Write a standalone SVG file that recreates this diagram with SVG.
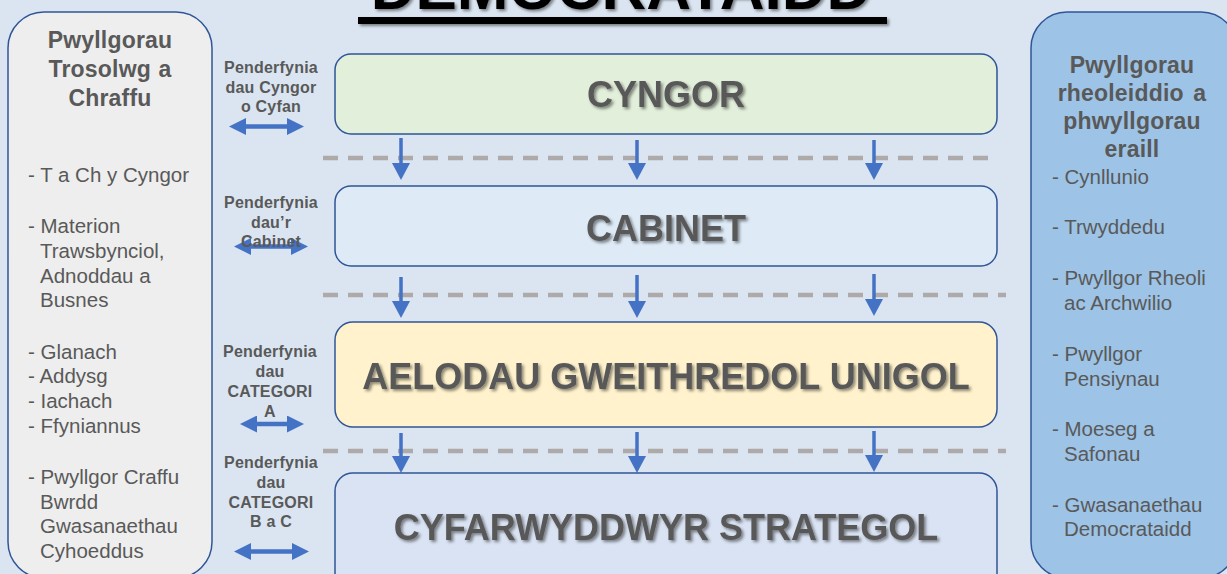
<svg xmlns="http://www.w3.org/2000/svg" width="1227" height="574" viewBox="0 0 1227 574">
<style>
.panelL{fill:#eeeeee;stroke:#2f5597;stroke-width:1.5}
.panelR{fill:#9dc3e6;stroke:#2f5597;stroke-width:1.5}
.box{stroke:#2f5597;stroke-width:1.5}
.ptitle{font-family:"Liberation Sans",Arial,sans-serif;font-weight:bold;font-size:23px;fill:#595959;text-anchor:middle;letter-spacing:0.2px}
.item{font-family:"Liberation Sans",Arial,sans-serif;font-size:20.5px;fill:#595959}
.lbl{font-family:"Liberation Sans",Arial,sans-serif;font-weight:bold;font-size:16px;fill:#595959;text-anchor:middle;letter-spacing:0.2px}
.big{font-family:"Liberation Sans",Arial,sans-serif;font-weight:bold;font-size:36px;fill:#595959;text-anchor:middle}
.dash{stroke:#aeaaaa;stroke-width:4.5;stroke-dasharray:15 10;fill:none}
.varr{stroke:#4472c4;stroke-width:3.5;fill:none}
.harr{stroke:#4472c4;stroke-width:4.5;fill:none}
</style>
<defs>
<filter id="sh" x="-10%" y="-30%" width="120%" height="160%">
<feDropShadow dx="2" dy="2" stdDeviation="1.5" flood-color="#000" flood-opacity="0.45"/>
</filter>
<marker id="ahv" markerUnits="userSpaceOnUse" viewBox="0 0 17 18" markerWidth="17" markerHeight="18" refX="9" refY="9" orient="auto">
<path d="M0,0 L17,9 L0,18 z" fill="#4472c4"/>
</marker>
<marker id="ahh" markerUnits="userSpaceOnUse" viewBox="0 0 17 17" markerWidth="17" markerHeight="17" refX="9" refY="8.5" orient="auto-start-reverse">
<path d="M0,0 L17,8.5 L0,17 z" fill="#4472c4"/>
</marker>
</defs>
<rect x="0" y="0" width="1227" height="574" fill="#dae5f1"/>

<g id="title" filter="url(#sh)">
<text x="621" y="9" font-family="'Liberation Sans',Arial,sans-serif" font-weight="bold" font-size="62" fill="#000" text-anchor="middle">DEMOCRATAIDD</text>
<rect x="358" y="17" width="529" height="7" fill="#000"/>
</g>

<g id="panel-left">
<rect class="panelL" x="8" y="12" width="204" height="566" rx="36"/>
<text class="ptitle" x="110" y="48">Pwyllgorau</text>
<text class="ptitle" x="110" y="77" word-spacing="1">Trosolwg a</text>
<text class="ptitle" x="110" y="106">Chraffu</text>
<text class="item" x="28" y="182">- T a Ch y Cyngor</text>
<text class="item" x="28" y="233">- Materion</text>
<text class="item" x="40" y="258">Trawsbynciol,</text>
<text class="item" x="40" y="283">Adnoddau a</text>
<text class="item" x="40" y="307">Busnes</text>
<text class="item" x="28" y="359">- Glanach</text>
<text class="item" x="28" y="383">- Addysg</text>
<text class="item" x="28" y="408">- Iachach</text>
<text class="item" x="28" y="433">- Ffyniannus</text>
<text class="item" x="28" y="484">- Pwyllgor Craffu</text>
<text class="item" x="40" y="509">Bwrdd</text>
<text class="item" x="40" y="533">Gwasanaethau</text>
<text class="item" x="40" y="558">Cyhoeddus</text>
</g>

<g id="panel-right">
<rect class="panelR" x="1031" y="12" width="206" height="566" rx="36"/>
<text class="ptitle" x="1132" y="73">Pwyllgorau</text>
<text class="ptitle" x="1132" y="101" word-spacing="3">rheoleiddio a</text>
<text class="ptitle" x="1132" y="129">phwyllgorau</text>
<text class="ptitle" x="1132" y="157">eraill</text>
<text class="item" x="1052" y="184">- Cynllunio</text>
<text class="item" x="1052" y="234">- Trwyddedu</text>
<text class="item" x="1052" y="285">- Pwyllgor Rheoli</text>
<text class="item" x="1064" y="310">ac Archwilio</text>
<text class="item" x="1052" y="361">- Pwyllgor</text>
<text class="item" x="1064" y="386">Pensiynau</text>
<text class="item" x="1052" y="436">- Moeseg a</text>
<text class="item" x="1064" y="461">Safonau</text>
<text class="item" x="1052" y="512">- Gwasanaethau</text>
<text class="item" x="1064" y="536">Democrataidd</text>
</g>

<g id="connectors">
<line class="dash" x1="323" y1="158" x2="995" y2="158"/>
<line class="dash" x1="323" y1="295" x2="1006" y2="295"/>
<line class="dash" x1="323" y1="451" x2="1006" y2="451"/>
<line class="varr" x1="401" y1="138" x2="401" y2="172" marker-end="url(#ahv)"/>
<line class="varr" x1="637" y1="140" x2="637" y2="172" marker-end="url(#ahv)"/>
<line class="varr" x1="874" y1="140" x2="874" y2="172" marker-end="url(#ahv)"/>
<line class="varr" x1="401" y1="277" x2="401" y2="310" marker-end="url(#ahv)"/>
<line class="varr" x1="637" y1="275" x2="637" y2="310" marker-end="url(#ahv)"/>
<line class="varr" x1="874" y1="274" x2="874" y2="308" marker-end="url(#ahv)"/>
<line class="varr" x1="401" y1="433" x2="401" y2="465" marker-end="url(#ahv)"/>
<line class="varr" x1="637" y1="432" x2="637" y2="465" marker-end="url(#ahv)"/>
<line class="varr" x1="874" y1="431" x2="874" y2="464" marker-end="url(#ahv)"/>
<line class="harr" x1="237" y1="126.5" x2="296" y2="126.5" marker-start="url(#ahh)" marker-end="url(#ahh)"/>
<line class="harr" x1="242" y1="246.5" x2="300" y2="246.5" marker-start="url(#ahh)" marker-end="url(#ahh)"/>
<line class="harr" x1="248" y1="424" x2="296" y2="424" marker-start="url(#ahh)" marker-end="url(#ahh)"/>
<line class="harr" x1="242" y1="551.5" x2="301" y2="551.5" marker-start="url(#ahh)" marker-end="url(#ahh)"/>
</g>

<g id="label-cyngor">
<text class="lbl" x="271" y="73">Penderfynia</text>
<text class="lbl" x="271" y="93">dau Cyngor</text>
<text class="lbl" x="271" y="112">o Cyfan</text>
</g>
<g id="label-cabinet">
<text class="lbl" x="271" y="208">Penderfynia</text>
<text class="lbl" x="271" y="228">dau’r</text>
<text class="lbl" x="271" y="247">Cabinet</text>
</g>
<g id="label-cat-a">
<text class="lbl" x="270" y="357">Penderfynia</text>
<text class="lbl" x="270" y="377">dau</text>
<text class="lbl" x="270" y="397">CATEGORI</text>
<text class="lbl" x="270" y="417">A</text>
</g>
<g id="label-cat-bc">
<text class="lbl" x="271" y="468">Penderfynia</text>
<text class="lbl" x="271" y="488">dau</text>
<text class="lbl" x="271" y="508">CATEGORI</text>
<text class="lbl" x="271" y="527">B a C</text>
</g>

<g id="node-cyngor">
<rect class="box" x="335" y="54" width="662" height="80" rx="16" fill="#e2efda"/>
<text class="big" x="666" y="107" filter="url(#sh)">CYNGOR</text>
</g>
<g id="node-cabinet">
<rect class="box" x="335" y="186" width="662" height="80" rx="16" fill="#deebf7"/>
<text class="big" x="666" y="241" filter="url(#sh)">CABINET</text>
</g>
<g id="node-aelodau">
<rect class="box" x="335" y="322" width="662" height="105" rx="18" fill="#fff2cc"/>
<text class="big" x="666" y="389" filter="url(#sh)">AELODAU GWEITHREDOL UNIGOL</text>
</g>
<g id="node-cyfarwyddwyr">
<rect class="box" x="335" y="473" width="662" height="120" rx="18" fill="#dae3f3"/>
<text class="big" x="666" y="540" filter="url(#sh)">CYFARWYDDWYR STRATEGOL</text>
</g>
</svg>
